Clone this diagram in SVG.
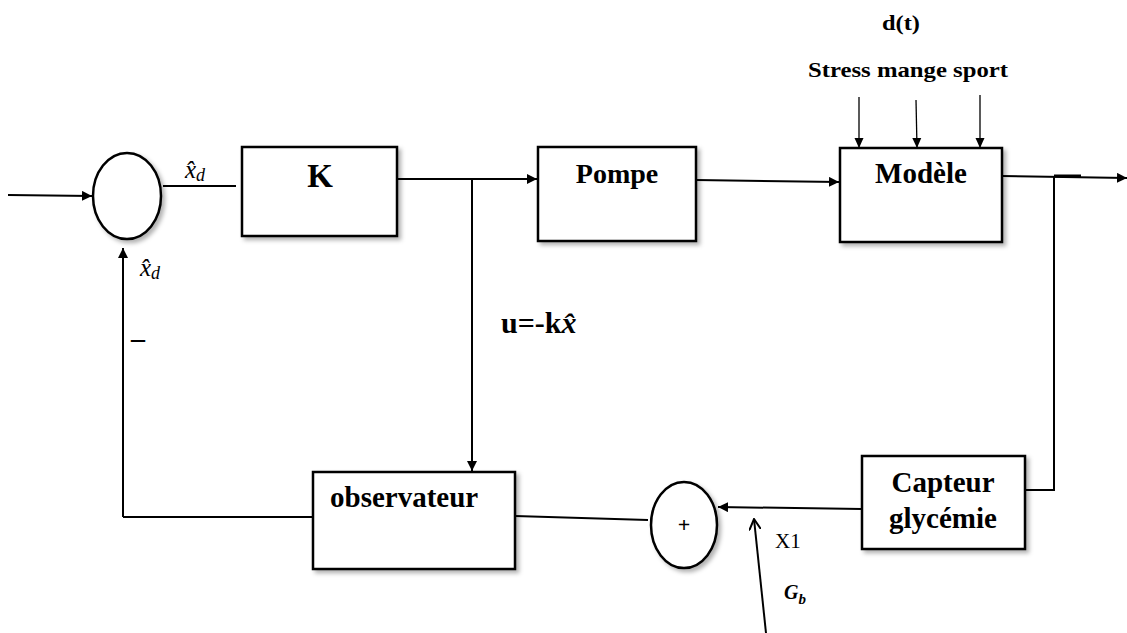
<svg xmlns="http://www.w3.org/2000/svg" width="1127" height="633" viewBox="0 0 1127 633">
  <style>
    .blk { fill: #fff; stroke: #000; stroke-width: 2.5; filter: url(#sh); }
    .ln { fill: none; stroke: #000; stroke-width: 2; }
    .lnA { fill: none; stroke: #000; stroke-width: 2; marker-end: url(#ah); }
    .lnT { fill: none; stroke: #000; stroke-width: 1.3; marker-end: url(#ahs); }
    text { font-family: "Liberation Serif", "DejaVu Serif", serif; fill: #000; }
    .tb { font-weight: bold; }
    .tm { font-style: italic; }
  </style>
  <defs>
    <filter id="sh" x="-10%" y="-10%" width="125%" height="130%">
      <feDropShadow dx="3" dy="3" stdDeviation="2" flood-color="#000" flood-opacity="0.3"/>
    </filter>
    <marker id="ah" viewBox="0 0 10 10" refX="10" refY="5" markerWidth="10" markerHeight="10" markerUnits="userSpaceOnUse" orient="auto">
      <path d="M0,0 L10,5 L0,10 Z" fill="#000"/>
    </marker>
    <marker id="ahs" viewBox="0 0 10 10" refX="10" refY="5" markerWidth="10" markerHeight="10" markerUnits="userSpaceOnUse" orient="auto">
      <path d="M0,0.5 L10,5 L0,9.5 Z" fill="#000"/>
    </marker>
    <marker id="ahv" viewBox="0 0 12 12" refX="11" refY="6" markerWidth="12" markerHeight="12" markerUnits="userSpaceOnUse" orient="auto">
      <path d="M0,0 L11,6 L0,12" fill="none" stroke="#000" stroke-width="2"/>
    </marker>
  </defs>

  <rect width="1127" height="633" fill="#fff"/>

  <g id="connectors">
    <line class="lnA" x1="8" y1="195" x2="92" y2="196"/>
    <line class="ln" x1="163" y1="186" x2="236" y2="186"/>
    <line class="lnA" x1="397" y1="179" x2="537" y2="179"/>
    <line class="lnA" x1="472" y1="179" x2="472" y2="471"/>
    <line class="lnA" x1="696" y1="180" x2="839" y2="182"/>
    <line class="lnT" x1="859" y1="97" x2="859" y2="148"/>
    <line class="lnT" x1="916" y1="100" x2="917" y2="148"/>
    <line class="lnT" x1="980" y1="95" x2="980" y2="148"/>
    <line class="lnA" x1="1002" y1="176" x2="1127" y2="178"/>
    <line x1="1054" y1="176" x2="1081" y2="176" stroke="#000" stroke-width="3"/>
    <polyline class="ln" points="1054,176 1054,490 1025,490"/>
    <line class="lnA" x1="862" y1="509" x2="718" y2="507"/>
    <line x1="766" y1="633" x2="754" y2="519" stroke="#000" stroke-width="2" marker-end="url(#ahv)"/>
    <line class="ln" x1="648" y1="520" x2="515" y2="516"/>
    <line class="ln" x1="313" y1="517" x2="123" y2="517"/>
    <line class="lnA" x1="123" y1="517" x2="123" y2="248"/>
  </g>

  <g id="sum1">
    <ellipse class="blk" cx="127" cy="196" rx="34" ry="43"/>
  </g>
  <g id="K">
    <rect class="blk" x="242" y="147" width="155" height="89"/>
    <text class="tb" x="320" y="187" font-size="33" text-anchor="middle">K</text>
  </g>
  <g id="pompe">
    <rect class="blk" x="538" y="147" width="158" height="94"/>
    <text class="tb" x="617" y="183" font-size="28" text-anchor="middle">Pompe</text>
  </g>
  <g id="modele">
    <rect class="blk" x="840" y="148" width="162" height="94"/>
    <text class="tb" x="921" y="183" font-size="29" text-anchor="middle">Modèle</text>
  </g>
  <g id="capteur">
    <rect class="blk" x="862" y="456" width="163" height="93"/>
    <text class="tb" x="943" y="492" font-size="29" text-anchor="middle">Capteur</text>
    <text class="tb" x="943" y="528" font-size="29" text-anchor="middle">glycémie</text>
  </g>
  <g id="sum2">
    <ellipse class="blk" cx="684" cy="525" rx="33" ry="43"/>
    <text class="tb" x="684" y="532" font-size="22" text-anchor="middle">+</text>
  </g>
  <g id="observateur">
    <rect class="blk" x="313" y="472" width="202" height="97"/>
    <text class="tb" x="330" y="507" font-size="29">observateur</text>
  </g>

  <g id="labels">
    <text class="tm" x="185" y="178" font-size="25">x̂<tspan font-size="18" dy="3">d</tspan></text>
    <text class="tm" x="140" y="276" font-size="25">x̂<tspan font-size="18" dy="3">d</tspan></text>
    <text class="tb" x="131" y="347" font-size="28">–</text>
    <text class="tb" x="501" y="333" font-size="30">u=-k<tspan font-style="italic">x̂</tspan></text>
    <text class="tb" x="901" y="30" font-size="22" text-anchor="middle" textLength="38" lengthAdjust="spacingAndGlyphs">d(t)</text>
    <text class="tb" x="908" y="77" font-size="22" text-anchor="middle" textLength="200" lengthAdjust="spacingAndGlyphs">Stress mange sport</text>
    <text x="775" y="548" font-size="21">X1</text>
    <text class="tb tm" x="784" y="599" font-size="20">G<tspan font-size="15" dy="5">b</tspan></text>
  </g>
</svg>
